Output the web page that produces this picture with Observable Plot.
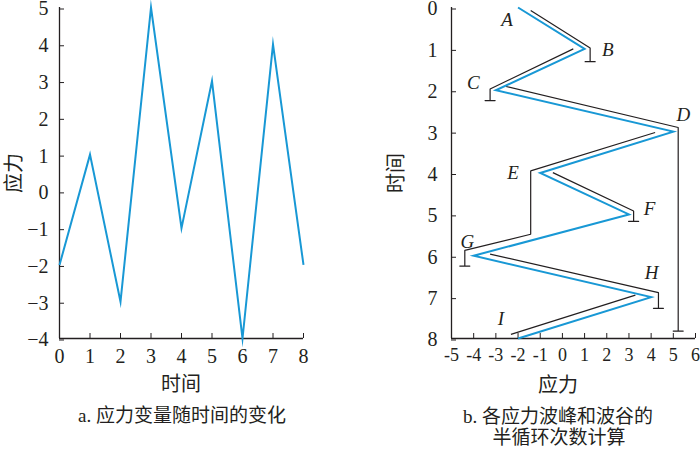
<!DOCTYPE html>
<html><head><meta charset="utf-8">
<script src="https://cdn.jsdelivr.net/npm/d3@7"></script>
<script src="https://cdn.jsdelivr.net/npm/@observablehq/plot@0.6"></script>
<style>
body{margin:0;background:#fff;}
#wrap{position:relative;width:700px;height:450px;overflow:hidden;font-family:"Liberation Serif",serif;}
.p{position:absolute;top:0;overflow:visible;}
.t{position:absolute;font-family:"Liberation Serif","Noto Sans CJK SC",sans-serif;font-size:19px;color:#231f20;white-space:nowrap;line-height:1;}
.v{writing-mode:vertical-rl;text-orientation:sideways;}
</style></head><body><div id="wrap"></div>
<script>
// ---- data ----
const times = [0, 1, 2, 3, 4, 5, 6, 7, 8];
const stress = [-2, 1, -3, 5, -1, 3, -4, 4, -2];
const timeTicks = [0, 1, 2, 3, 4, 5, 6, 7, 8];
const stressTicksA = [-4, -3, -2, -1, 0, 1, 2, 3, 4, 5];
const stressTicksB = [-5, -4, -3, -2, -1, 0, 1, 2, 3, 4, 5, 6];
const peakNames = ["A", "B", "C", "D", "E", "F", "G", "H", "I"];
const peakLabelStress = [-2.5, 2.05, -4.02, 5.45, -2.23, 3.93, -4.29, 4.02, -2.77];
const peakLabelTime = [0.31, 1.02, 1.82, 2.59, 3.99, 4.87, 5.67, 6.42, 7.53];
// rainflow (black) paths
const flowId =     [1, 1, 1, 2, 2, 2, 3, 3, 3, 4, 4, 4, 4, 4, 5, 5, 5, 6, 6, 6, 7, 7];
const flowStress = [-1.43, 1.25, 1.25, 0.49, -3.26, -3.26, -2.54, 5.22, 5.22, 4.18, -1.43, -1.43, -4.4, -4.4, -0.43, 3.21, 3.21, -3.26, 4.33, 4.33, 3.29, -2.32];
const flowTime =   [0.07, 0.98, 1.31, 1.0, 1.97, 2.25, 1.91, 2.9, 7.82, 3.02, 3.95, 5.48, 5.87, 6.25, 3.99, 4.92, 5.17, 5.96, 6.89, 7.27, 6.95, 7.9];
const footStress = [1.25, -3.26, 5.22, -4.4, 3.21, 4.33];
const footTime =   [1.31, 2.25, 7.82, 6.25, 5.17, 7.27];

const titleA = "a. 应力变量随时间的变化";
const titleB1 = "b. 各应力波峰和波谷的";
const titleB2 = "半循环次数计算";

// ---- build ----
const blue = "#1898d5", ink = "#231f20";
const series = times.map((t, i) => ({t, s: stress[i]}));
const flows = flowId.map((id, i) => ({id, s: flowStress[i], t: flowTime[i]}));
const feet = footStress.map((s, i) => ({s, t: footTime[i]}));
const peaks = peakNames.map((n, i) => ({n, s: peakLabelStress[i], t: peakLabelTime[i]}));
const lineShape = {draw(ctx, l) { ctx.moveTo(0, 0); ctx.lineTo(0, -l); }};

const wrap = document.getElementById("wrap");

const plotA = Plot.plot({
  width: 320, height: 400,
  marginLeft: 59, marginRight: 17, marginTop: 7, marginBottom: 62,
  style: {fontFamily: "Liberation Serif, serif", color: ink, background: "transparent", overflow: "visible"},
  x: {domain: [0, 8]},
  y: {domain: [-4, 5]},
  marks: [
    Plot.ruleX([0], {stroke: ink, strokeWidth: 1.3}),
    Plot.ruleY([-4], {stroke: ink, strokeWidth: 1.3}),
    Plot.axisX(timeTicks, {anchor: "bottom", tickSize: -5, tickPadding: 15, fontSize: 20, label: null, stroke: ink, fill: ink}),
    Plot.axisY(stressTicksA, {anchor: "left", tickSize: -5, tickPadding: 16, fontSize: 20, dy: 1.5, label: null, stroke: ink, fill: ink}),
    Plot.line(series, {x: "t", y: "s", stroke: blue, strokeWidth: 2, strokeLinejoin: "miter", strokeMiterlimit: 10, strokeLinecap: "butt"})
  ]
});
plotA.classList.add("p");
plotA.style.left = "0px";
wrap.appendChild(plotA);

const plotB = Plot.plot({
  width: 330, height: 400,
  marginLeft: 81, marginRight: 5, marginTop: 7, marginBottom: 62,
  style: {fontFamily: "Liberation Serif, serif", color: ink, background: "transparent", overflow: "visible"},
  x: {domain: [-5, 6]},
  y: {domain: [0, 8], reverse: true},
  marks: [
    Plot.ruleX([-5], {stroke: ink, strokeWidth: 1.3}),
    Plot.ruleY([8], {stroke: ink, strokeWidth: 1.3}),
    Plot.axisX(stressTicksB, {anchor: "bottom", tickSize: -5, tickPadding: 15, fontSize: 18, label: null, tickFormat: d => String(d), stroke: ink, fill: ink}),
    Plot.axisY(timeTicks, {anchor: "left", tickSize: -5, tickPadding: 19, fontSize: 20, dy: 1.5, label: null, stroke: ink, fill: ink}),
    Plot.line(flows, {x: "s", y: "t", z: "id", stroke: ink, strokeWidth: 1.2, strokeLinejoin: "miter", strokeLinecap: "butt"}),
    Plot.vector(feet, {x: "s", y: "t", rotate: 90, length: 10, anchor: "middle", shape: lineShape, stroke: ink, strokeWidth: 1.2}),
    Plot.line(series, {x: "s", y: "t", stroke: blue, strokeWidth: 2, strokeLinejoin: "miter", strokeMiterlimit: 10, strokeLinecap: "butt"}),
    Plot.text(peaks, {x: "s", y: "t", text: "n", fontSize: 19, fontStyle: "italic", fontFamily: "Liberation Serif, serif", fill: ink})
  ]
});
plotB.classList.add("p");
plotB.style.left = "370px";
wrap.appendChild(plotB);

function place(txt, cx, cy, vertical, size) {
  const d = document.createElement("div");
  d.className = "t" + (vertical ? " v" : "");
  d.textContent = txt;
  if (size) d.style.fontSize = size + "px";
  d.style.left = cx + "px";
  d.style.top = cy + "px";
  d.style.transform = "translate(-50%,-50%)" + (vertical ? " rotate(180deg)" : "");
  wrap.appendChild(d);
}
place("应力", 14, 173, true, 20);
place("时间", 181, 384, false, 20);
place(titleA, 182, 415);
place("时间", 396, 173, true, 20);
place("应力", 558, 385, false, 20);
place(titleB1, 558, 416);
place(titleB2, 559, 437);
</script>
</body></html>
